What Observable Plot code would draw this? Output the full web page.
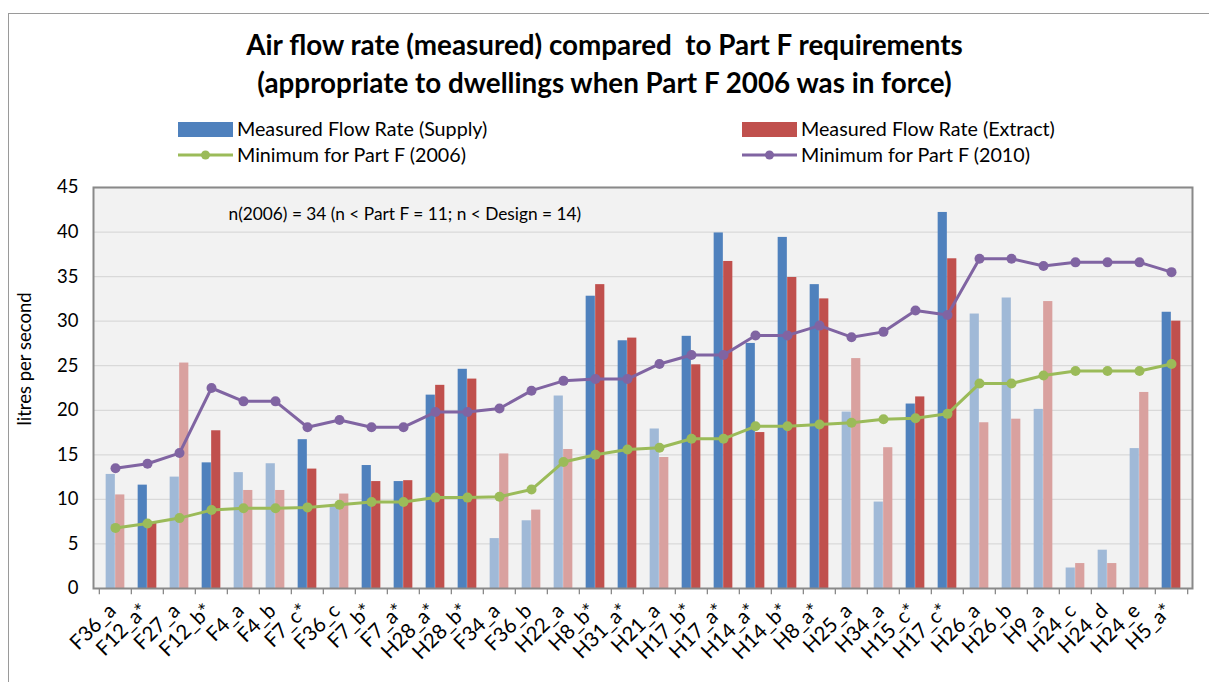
<!DOCTYPE html>
<html>
<head>
<meta charset="utf-8">
<script src="https://cdn.jsdelivr.net/npm/d3@7"></script>
<script src="https://cdn.jsdelivr.net/npm/@observablehq/plot@0.6"></script>
<style>
  body { margin: 0; background: #fff; }
  #wrap { position: relative; width: 1209px; height: 682px; overflow: hidden; font-family: Lato, "Open Sans", sans-serif; color: #000; }
  #border { position: absolute; left: 8px; top: 13px; width: 1400px; height: 800px; border-top: 1.5px solid #9a9a9a; border-left: 1.5px solid #9a9a9a; }
  #title { position: absolute; left: 0; top: 26px; width: 1209px; text-align: center; font-weight: bold; font-size: 27.8px; line-height: 38px; }
  .lg { position: absolute; font-size: 19.7px; line-height: 22px; white-space: nowrap; display: flex; align-items: center; }
  .sw { display: inline-block; width: 55px; height: 15px; margin-right: 4px; }
  .ln { display: inline-block; width: 55px; height: 12px; margin-right: 4px; }
  #chart { position: absolute; left: 0; top: 170px; }
</style>
</head>
<body>
<div id="wrap">
  <div id="border"></div>
  <div id="title">Air flow rate (measured) compared&nbsp; to Part F requirements<br>(appropriate to dwellings when Part F 2006 was in force)</div>
  <div id="legend"></div>
  <div id="chart"></div>
</div>
<script>
const categories = ["F36_a","F12_a*","F27_a","F12_b*","F4_a","F4_b","F7_c*","F36_c","F7_b*","F7_a*","H28_a*","H28_b*","F34_a","F36_b","H22_a","H8_b*","H31_a*","H21_a","H17_b*","H17_a*","H14_a*","H14_b*","H8_a*","H25_a","H34_a","H15_c*","H17_c*","H26_a","H26_b","H9_a","H24_c","H24_d","H24_e","H5_a*"];
const supply = [12.8,11.6,12.5,14.1,13.0,14.0,16.7,9.4,13.8,12.0,21.7,24.6,5.6,7.6,21.6,32.8,27.8,17.9,28.3,39.9,27.5,39.4,34.1,19.8,9.7,20.7,42.2,30.8,32.6,20.1,2.3,4.3,15.7,31.0];
const extract = [10.5,7.3,25.3,17.7,11.0,11.0,13.4,10.6,12.0,12.1,22.8,23.5,15.1,8.8,15.6,34.1,28.1,14.7,25.1,36.7,17.5,34.9,32.5,25.8,15.8,21.5,37.0,18.6,19.0,32.2,2.8,2.8,22.0,30.0];
const min2006 = [6.8,7.3,7.9,8.8,9.0,9.0,9.1,9.4,9.7,9.7,10.2,10.2,10.3,11.1,14.2,15.0,15.6,15.8,16.8,16.8,18.2,18.2,18.4,18.6,19.0,19.1,19.6,23.0,23.0,23.9,24.4,24.4,24.4,25.2];
const min2010 = [13.5,14.0,15.2,22.5,21.0,21.0,18.1,18.9,18.1,18.1,19.8,19.8,20.2,22.2,23.3,23.5,23.5,25.2,26.2,26.2,28.4,28.4,29.5,28.2,28.8,31.2,30.7,37.0,37.0,36.2,36.6,36.6,36.6,35.5];
const yTicks = [0,5,10,15,20,25,30,35,40,45];
const seriesNames = ["Measured Flow Rate (Supply)","Measured Flow Rate (Extract)","Minimum for Part F (2006)","Minimum for Part F (2010)"];
const note = "n(2006) = 34 (n < Part F = 11; n < Design = 14)";
const yLabel = "litres per second";

const BLUE = "#4f81bd", BLUE_L = "#a0b9d7", RED = "#c0504d", RED_L = "#d9a19f", GREEN = "#9bbb59", PURPLE = "#8064a2";

const rows = categories.map((c, i) => ({cat: c, star: c.endsWith("*"), supply: supply[i], extract: extract[i], m06: min2006[i], m10: min2010[i]}));

// Legend
const legend = document.getElementById("legend");
const legendItems = [
  {name: seriesNames[0], kind: "bar", color: BLUE, left: 178, top: 118},
  {name: seriesNames[1], kind: "bar", color: RED, left: 742, top: 118},
  {name: seriesNames[2], kind: "line", color: GREEN, left: 178, top: 144},
  {name: seriesNames[3], kind: "line", color: PURPLE, left: 742, top: 144}
];
for (const it of legendItems) {
  const d = document.createElement("div");
  d.className = "lg";
  d.style.left = it.left + "px";
  d.style.top = it.top + "px";
  if (it.kind === "bar") {
    d.innerHTML = `<span class="sw" style="background:${it.color}"></span><span>${it.name}</span>`;
  } else {
    d.innerHTML = `<svg class="ln" width="55" height="12"><line x1="0" x2="55" y1="6" y2="6" stroke="${it.color}" stroke-width="3"/><circle cx="27.5" cy="6" r="4.5" fill="${it.color}"/></svg><span>${it.name}</span>`;
  }
  legend.appendChild(d);
}

const W = 1209, H = 512, mL = 93, mR = 17, mT = 17, mB = 94;
const bw = (W - mL - mR) / categories.length;
const barW = 9.5;
const inOuter = bw / 2 - barW;

const chart = Plot.plot({
  width: W, height: H,
  marginLeft: mL, marginRight: mR, marginTop: mT, marginBottom: mB,
  style: {fontFamily: "Lato, 'Open Sans', sans-serif", fontSize: "18px", color: "#000", background: "transparent"},
  x: {type: "band", domain: categories, padding: 0, label: null},
  y: {domain: [0, 45], label: null},
  marks: [
    Plot.frame({fill: "#f2f2f2"}),
    Plot.ruleY(yTicks.filter(t => t > 0), {stroke: "#d9d9d9", strokeWidth: 1.3}),
    Plot.barY(rows, {x: "cat", y: "supply", fill: d => d.star ? BLUE : BLUE_L, insetLeft: inOuter, insetRight: bw / 2}),
    Plot.barY(rows, {x: "cat", y: "extract", fill: d => d.star ? RED : RED_L, insetLeft: bw / 2, insetRight: inOuter}),
    Plot.line(rows, {x: "cat", y: "m06", stroke: GREEN, strokeWidth: 3}),
    Plot.dot(rows, {x: "cat", y: "m06", r: 5, fill: GREEN}),
    Plot.line(rows, {x: "cat", y: "m10", stroke: PURPLE, strokeWidth: 3}),
    Plot.dot(rows, {x: "cat", y: "m10", r: 5, fill: PURPLE}),
    Plot.frame({stroke: "#898989", strokeWidth: 2}),
    Plot.ruleX(categories, {x: d => d, dx: -bw / 2, y1: 0, y2: -0.7, stroke: "#898989", strokeWidth: 1.3}),
    Plot.ruleX(categories.slice(-1), {x: d => d, dx: bw / 2, y1: 0, y2: -0.7, stroke: "#898989", strokeWidth: 1.3}),
    Plot.axisY({ticks: yTicks, tickSize: 0, tickPadding: 15, label: null, fontSize: 18.5}),
    Plot.axisX({tickSize: 0, tickRotate: -45, tickPadding: 19, dx: -3, label: null, fontSize: 20.5}),
    Plot.text([yLabel], {frameAnchor: "left", rotate: -90, dx: -68, dy: -29, textAnchor: "middle", fontSize: 18.5}),
    Plot.text([note], {frameAnchor: "top-left", dx: 135, dy: 27, textAnchor: "start", lineAnchor: "middle", fontSize: 17.3})
  ]
});
document.getElementById("chart").appendChild(chart);
</script>
</body>
</html>
